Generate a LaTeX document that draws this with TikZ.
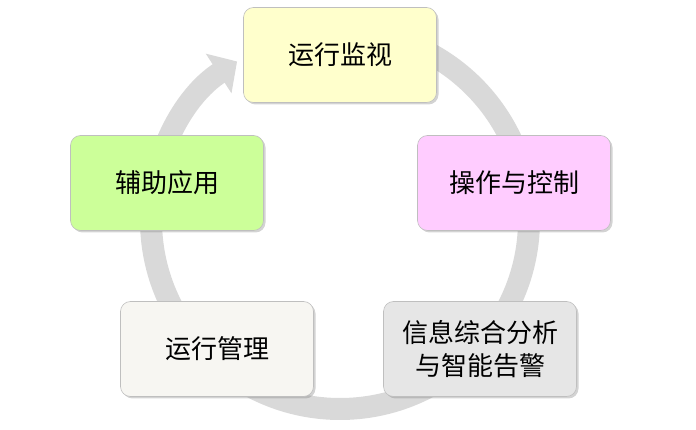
\documentclass[tikz,border=0pt]{standalone}
\usepackage{fontspec}
\newfontfamily\cjk{Noto Sans CJK SC}
\usepackage{tikz}
\usetikzlibrary{shapes,arrows.meta,calc,shadows,positioning}
\definecolor{ringgray}{HTML}{D9D9D9}
\definecolor{boxyellow}{HTML}{FFFFCC}
\definecolor{boxpink}{HTML}{FFCCFF}
\definecolor{boxgreen}{HTML}{CCFF99}
\definecolor{boxgray}{HTML}{E6E6E6}
\definecolor{boxwhite}{HTML}{F7F6F2}
\tikzset{
    x=1pt,y=1pt,
    stage/.style ={rectangle, rounded corners=10pt, draw=black!25, semithick,
                   minimum width=193pt, minimum height=95pt, align=center,
                   font=\cjk\fontsize{26}{33}\selectfont,
                   drop shadow={opacity=0.35, shadow xshift=2pt, shadow yshift=-2pt}},
    ring/.style = {ringgray, line width=22pt, -{Triangle[length=22pt,width=46pt]}}
}
\begin{document}
\begin{tikzpicture}
  \useasboundingbox (0,0) rectangle (696,430);
  \coordinate (c) at (340,210);

  % circular arrow behind the stages
  \draw[ring] ($(c)+(90:189)$) arc[start angle=90, end angle=-237, radius=189];

  \node[stage, fill=boxyellow] (jk) at (340,375) {运行监视};
  \node[stage, fill=boxpink] (kz) at (514,247) {操作与控制};
  \node[stage, fill=boxgray] (gj) at (480,81) {信息综合分析\\与智能告警};
  \node[stage, fill=boxwhite] (gl) at (217,81) {运行管理};
  \node[stage, fill=boxgreen] (fz) at (167,247) {辅助应用};
\end{tikzpicture}
\end{document}
